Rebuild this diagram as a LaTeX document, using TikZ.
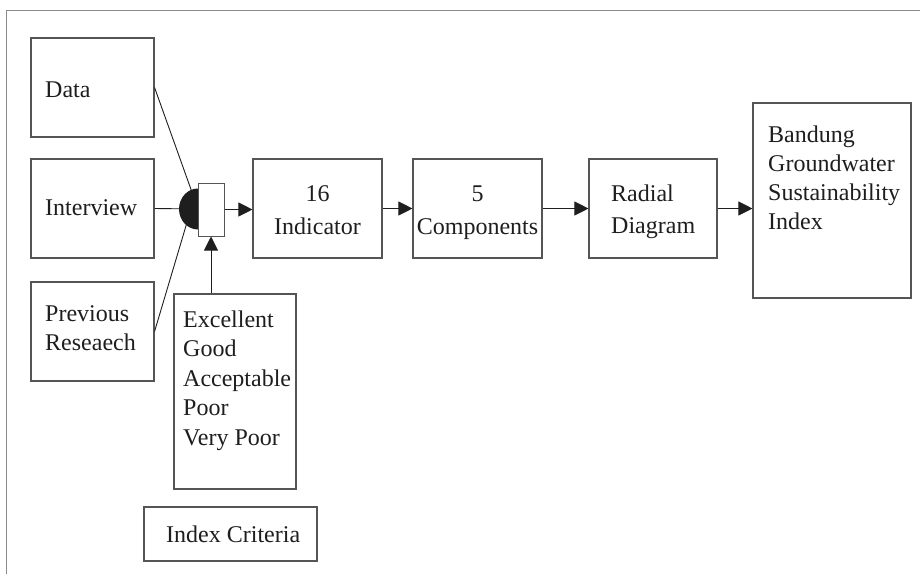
\documentclass[tikz,border=0pt]{standalone}
\usepackage{fontspec}
\setmainfont{Liberation Serif}
\usetikzlibrary{arrows.meta}
\definecolor{boxline}{HTML}{555555}
\definecolor{frameline}{HTML}{8A8A8A}
\definecolor{ink}{HTML}{1E1E1E}
\begin{document}
\begin{tikzpicture}[x=1pt,y=-1pt,
  box/.style={draw=boxline,line width=1.1pt,rectangle,inner sep=0pt,fill=white},
  lbl/.style={anchor=base west,inner sep=0pt,text=ink,font=\fontsize{24}{29}\selectfont},
  clbl/.style={anchor=base,inner sep=0pt,text=ink,align=center,font=\fontsize{24}{33}\selectfont},
  wire/.style={draw=ink,line width=0.9pt},
  arr/.style={wire,-{Triangle[length=14pt,width=14pt]}}]
\useasboundingbox (0,0) rectangle (920,574);
% outer frame (top and left edges)
\draw[frameline,line width=1.6pt] (6.5,574) -- (6.5,10.5) -- (920,10.5);

% input boxes
\node[box,minimum width=123pt,minimum height=99pt] (data) at (92.5,87.5) {};
\node[box,minimum width=123pt,minimum height=99pt] (interview) at (92.5,208.5) {};
\node[box,minimum width=123pt,minimum height=99pt] (previous) at (92.5,331.5) {};
\node[lbl] (tdata) at (45,97) {Data};
\node[lbl] (tinterview) at (45,215) {Interview};
% multi-line labels are placed by the baseline of their last line
\node[lbl,align=left] (tprevious) at (45,350) {Previous\\Reseaech};

% junction
\coordinate (hub) at (198,209);
\coordinate (prevend) at (191,209);
\draw[wire] (data.east) -- (hub);
\draw[wire] (interview.east) -- (hub);
\draw[wire] (previous.east) -- (prevend);
\fill[ink] (198,188.5) arc[start angle=270,end angle=90,x radius=19,y radius=20.5] -- cycle;
\node[box,line width=1pt,minimum width=26pt,minimum height=53pt] (gate) at (211,209.5) {};

% processing chain
\node[box,minimum width=129pt,minimum height=99pt] (indicator) at (317.5,208.5) {};
\node[clbl] (tindicator) at (317.5,234) {16\\Indicator};
\node[box,minimum width=129pt,minimum height=99pt] (components) at (477.5,208.5) {};
\node[clbl] (tcomponents) at (477.5,234) {5\\Components};
\node[box,minimum width=128pt,minimum height=99pt] (radial) at (653,208.5) {};
\node[lbl,align=left,font=\fontsize{24}{32}\selectfont] (tradial) at (611,233) {Radial\\Diagram};
\node[box,minimum width=158pt,minimum height=195pt] (bandung) at (832,200.5) {};
\node[lbl,align=left] (tbandung) at (768,229) {Bandung\\Groundwater\\Sustainability\\Index};

\draw[arr] (gate.east) -- (gate.east -| indicator.west);
\draw[arr] (indicator.east) -- (components.west);
\draw[arr] (components.east) -- (radial.west);
\draw[arr] (radial.east) -- (radial.east -| bandung.west);

% criteria scale
\node[box,minimum width=122pt,minimum height=195pt] (scale) at (235,391.5) {};
\node[lbl,align=left,font=\fontsize{24}{29.5}\selectfont] (tscale) at (183,445) {Excellent\\Good\\Acceptable\\Poor\\Very Poor};
\draw[arr] (scale.north -| gate.south) -- (gate.south);

\node[box,minimum width=173pt,minimum height=54pt] (criteria) at (230.5,534) {};
\node[lbl] (tcriteria) at (166,542) {Index Criteria};
\end{tikzpicture}
\end{document}
